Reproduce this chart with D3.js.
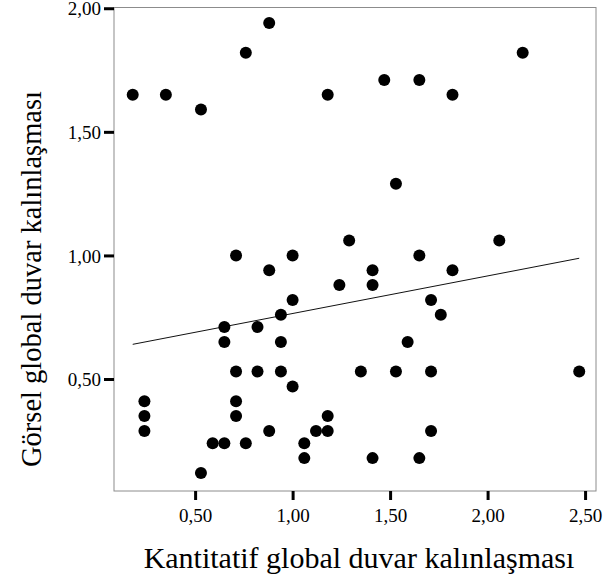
<!DOCTYPE html>
<html>
<head>
<meta charset="utf-8">
<script src="https://cdn.jsdelivr.net/npm/d3@7"></script>
<style>
  body { margin: 0; background: #fff; }
  svg text { font-family: "Liberation Serif", "Times New Roman", serif; fill: #000; }
</style>
</head>
<body>
<div class="scatter"></div>
<script>
// Kantitatif (x) vs Görsel (y) global duvar kalınlaşması
var xValues = [0.18, 0.35, 0.53, 0.76, 0.88, 1.18, 1.47, 1.65, 1.82, 2.18,
               1.53, 1.29, 2.06, 0.71, 1.00, 1.65, 0.88, 1.41, 1.82, 1.24,
               1.41, 1.00, 1.71, 0.94, 1.76, 0.65, 0.82, 0.65, 0.94, 1.59,
               0.71, 0.82, 0.94, 1.35, 1.53, 1.71, 2.47, 1.00, 0.24, 0.71,
               0.24, 0.71, 1.18, 0.24, 0.88, 1.12, 1.18, 1.71, 0.59, 0.65,
               0.76, 1.06, 1.06, 1.41, 1.65, 0.53];
var yValues = [1.65, 1.65, 1.59, 1.82, 1.94, 1.65, 1.71, 1.71, 1.65, 1.82,
               1.29, 1.06, 1.06, 1.00, 1.00, 1.00, 0.94, 0.94, 0.94, 0.88,
               0.88, 0.82, 0.82, 0.76, 0.76, 0.71, 0.71, 0.65, 0.65, 0.65,
               0.53, 0.53, 0.53, 0.53, 0.53, 0.53, 0.53, 0.47, 0.41, 0.41,
               0.35, 0.35, 0.35, 0.29, 0.29, 0.29, 0.29, 0.29, 0.24, 0.24,
               0.24, 0.24, 0.18, 0.18, 0.18, 0.12];
var xTicks = [0.5, 1.0, 1.5, 2.0, 2.5];
var yTicks = [0.5, 1.0, 1.5, 2.0];

var w = 604, h = 582;
var pLeft = 114, pRight = 596, pTop = 7.5, pBottom = 491;

var data = xValues.map(function(d, i) { return { x: d, y: yValues[i] }; });

var svg = d3.select(".scatter")
            .append("svg")
            .attr("width", w)
            .attr("height", h);

var x = d3.scaleLinear().domain([0.084, 2.556]).range([pLeft, pRight]);
var y = d3.scaleLinear().domain([0.047, 2.003]).range([pBottom, pTop]);

var fmt = function(d) { return d3.format(".2f")(d).replace(".", ","); };

// frame
svg.append("rect")
   .attr("x", pLeft).attr("y", pTop)
   .attr("width", pRight - pLeft).attr("height", pBottom - pTop)
   .attr("fill", "none").attr("stroke", "#8c8c8c").attr("stroke-width", 1);

var xAxis = svg.append("g")
   .attr("transform", "translate(0," + pBottom + ")")
   .call(d3.axisBottom(x).tickValues(xTicks).tickFormat(fmt)
           .tickSize(9).tickSizeOuter(0).tickPadding(9));
var yAxis = svg.append("g")
   .attr("transform", "translate(" + pLeft + ",0)")
   .call(d3.axisLeft(y).tickValues(yTicks).tickFormat(fmt)
           .tickSize(10).tickSizeOuter(0).tickPadding(3));

[xAxis, yAxis].forEach(function(g) {
  g.select(".domain").remove();
  g.selectAll(".tick line").attr("stroke", "#000").attr("stroke-width", 3);
  g.selectAll(".tick text").style("font-size", "19px");
});
yAxis.selectAll(".tick text").attr("dy", "0.35em");

// least squares fit line
var mx = d3.mean(data, function(d) { return d.x; });
var my = d3.mean(data, function(d) { return d.y; });
var sxy = d3.sum(data, function(d) { return (d.x - mx) * (d.y - my); });
var sxx = d3.sum(data, function(d) { return (d.x - mx) * (d.x - mx); });
var b = sxy / sxx, a = my - b * mx;
var ext = d3.extent(xValues);

svg.append("line")
   .attr("x1", x(ext[0])).attr("y1", y(a + b * ext[0]))
   .attr("x2", x(ext[1])).attr("y2", y(a + b * ext[1]))
   .attr("stroke", "#111").attr("stroke-width", 1);

svg.selectAll("circle")
   .data(data)
   .enter()
   .append("circle")
   .attr("cx", function(d) { return x(d.x); })
   .attr("cy", function(d) { return y(d.y); })
   .attr("r", 6)
   .attr("fill", "#000");

svg.append("text")
   .attr("x", 359).attr("y", 568)
   .attr("text-anchor", "middle")
   .style("font-size", "30px")
   .text("Kantitatif global duvar kalınlaşması");

svg.append("text")
   .attr("transform", "translate(41,279) rotate(-90)")
   .attr("text-anchor", "middle")
   .style("font-size", "28.5px")
   .text("Görsel global duvar kalınlaşması");
</script>
</body>
</html>
